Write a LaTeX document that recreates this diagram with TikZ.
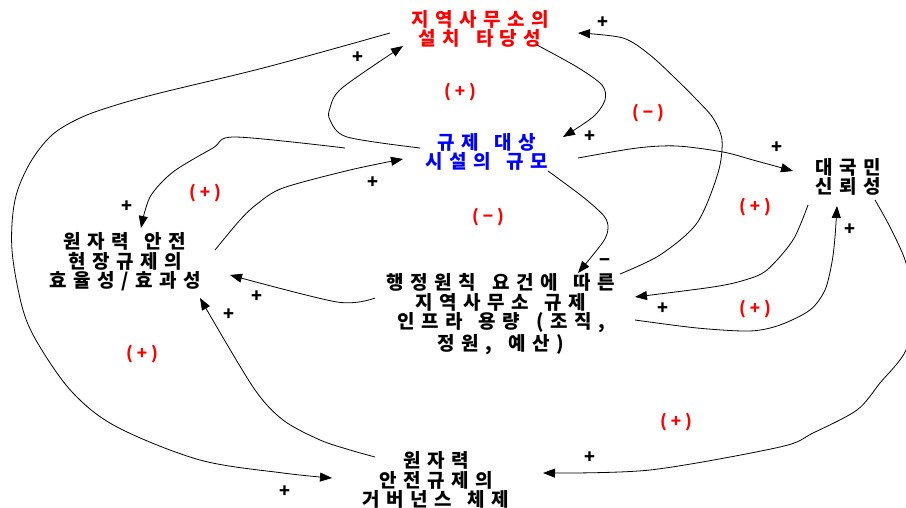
\documentclass[tikz,border=0pt]{standalone}
\usepackage{fontspec}
\setmainfont{Noto Sans CJK KR}
\newfontfamily\krp{Noto Sans CJK KR}
\newdimen\lsgap \lsgap=6.5pt
\newcommand{\gp}{\kern3pt}
\def\ls#1{\lsfirst#1\end}
\def\lsfirst#1{#1\lsrest}
\def\lsrest#1{\ifx#1\end\else\kern\lsgap#1\expandafter\lsrest\fi}
\usetikzlibrary{arrows.meta,calc}
\tikzset{
  lbl/.style={align=center, font=\krp\bfseries\fontsize{19}{19.6}\selectfont, inner sep=0pt},
  cl/.style={-{Triangle[length=12pt,width=9pt]}, line width=0.8pt},
  pl/.style={font=\krp\bfseries\fontsize{18}{18}\selectfont, inner sep=0pt},
  lp/.style={text=red, font=\krp\bfseries\fontsize{17}{17}\selectfont, inner sep=0pt}
}
\begin{document}
\begin{tikzpicture}[x=1pt,y=-1pt]
\useasboundingbox (0,0) rectangle (906,508);
\node[lbl,text=red] (A) at (480,29) {\ls{지역사무소의}\\\ls{설치\gp 타당성}};
\node[lbl,text=blue] (B) at (487,152) {\ls{규제\gp 대상}\\\ls{시설의\gp 규모}};
\node[lbl] (C) at (848,177) {\ls{대국민}\\\ls{신뢰성}};
\node[lbl] (D) at (125,262) {\ls{원자력\gp 안전}\\\ls{현장규제의}\\\ls{효율성/효과성}};
\node[lbl] (E) at (501,314) {\ls{행정원칙\gp 요건에\gp 따른}\\\ls{지역사무소\gp 규제}\\\ls{인프라\gp 용량\gp (조직,}\\\ls{정원,\gp 예산)}};
\node[lbl] (F) at (436,480) {\ls{원자력}\\\ls{안전규제의}\\\ls{거버넌스\gp 체제}};

% A -> B
\draw[cl] plot[smooth] coordinates {($(A)+(57,16)$) (577,67) (602,85) (605,100) (593,117) ($(B)+(76,-15)$)};
% B -> A
\draw[cl] plot[smooth] coordinates {($(B)+(-67,-4)$) (347,137) (330,120) (330,108) (342,88) ($(A)+(-77,17)$)};
% B -> D
\draw[cl] plot[smooth] coordinates {($(B)+(-142,-4)$) (235,137) (213,148) (173,172) (150,197) ($(D)+(16,-34)$)};
% D -> B
\draw[cl] plot[smooth] coordinates {($(D)+(90,-12)$) (240,220) (257,204) (283,188) (350,170) ($(B)+(-84,7)$)};
% E -> D
\draw[cl] plot[smooth] coordinates {($(E)+(-126,-16)$) (337,302) ($(D)+(105,13)$)};
% F -> D
\draw[cl] plot[smooth] coordinates {($(F)+(-61,-23)$) (350,450) (320,440) (283,420) (253,387) ($(D)+(75,36)$)};
% A -> F
\draw[cl] plot[smooth,tension=0.55] coordinates {($(A)+(-90,4)$) (267,67) (160,93) (113,106) (80,118) (52,135) (30,163) (15,200) (12,250) (23,310) (40,347) (73,393) (117,427) (200,460) (283,473) ($(F)+(-104,-2)$)};
% C -> F
\draw[cl] plot[smooth] coordinates {($(C)+(27,23)$) (890,227) (906,263) (912,305) (906,350) (880,383) (857,410) (813,433) (780,447) (650,470) ($(F)+(107,-7)$)};
% B -> C
\draw[cl] plot[smooth] coordinates {($(B)+(91,6)$) (637,148) (677,146) (723,152) (753,160) ($(C)+(-55,-6)$)};
% C -> E
\draw[cl] plot[smooth] coordinates {($(C)+(-40,28)$) (793,240) (767,270) (745,280) (713,287) ($(E)+(134,-17)$)};
% E -> C
\draw[cl] plot[smooth] coordinates {($(E)+(134,6)$) (697,328) (750,331) (780,325) (810,310) (825,290) (832,262) (835,237) ($(C)+(-11,29)$)};
% E -> A
\draw[cl] plot[smooth] coordinates {($(E)+(119,-40)$) (660,255) (697,223) (718,173) (722,140) (713,118) (697,100) (677,80) (650,55) (623,38) ($(A)+(98,4)$)};
% B -> E
\draw[cl] plot[smooth] coordinates {($(B)+(61,19)$) (583,197) (604,216) (608,228) (603,242) ($(E)+(77,-41)$)};

% polarity signs
\node[pl] (p1) at (590,137) {+};
\node[pl] (p2) at (358,58) {+};
\node[pl] (p3) at (127,207) {+};
\node[pl] (p4) at (373,183) {+};
\node[pl] (p5) at (257,297) {+};
\node[pl] (p6) at (229,315) {+};
\node[pl] (p7) at (285,492) {+};
\node[pl] (p8) at (590,458) {+};
\node[pl] (p9) at (777,148) {+};
\node[pl] (p10) at (663,309) {+};
\node[pl] (p11) at (850,230) {+};
\node[pl] (p12) at (603,23) {+};
\node[pl] (p13) at (605,263) {−};

% loop labels
\node[lp] (l1) at (460,92) {(\kern4pt+\kern4pt)};
\node[lp] (l2) at (648,113) {(\kern4pt−\kern4pt)};
\node[lp] (l3) at (205,193) {(\kern4pt+\kern4pt)};
\node[lp] (l4) at (488,217) {(\kern4pt−\kern4pt)};
\node[lp] (l5) at (755,207) {(\kern4pt+\kern4pt)};
\node[lp] (l6) at (755,309) {(\kern4pt+\kern4pt)};
\node[lp] (l7) at (142,354) {(\kern4pt+\kern4pt)};
\node[lp] (l8) at (676,422) {(\kern4pt+\kern4pt)};
\end{tikzpicture}
\end{document}
